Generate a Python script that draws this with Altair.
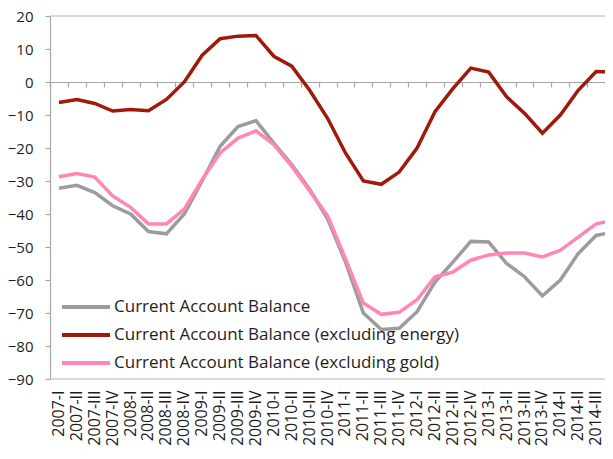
import altair as alt
import pandas as pd

quarters = [
    "2007-I", "2007-II", "2007-III", "2007-IV",
    "2008-I", "2008-II", "2008-III", "2008-IV",
    "2009-I", "2009-II", "2009-III", "2009-IV",
    "2010-I", "2010-II", "2010-III", "2010-IV",
    "2011-I", "2011-II", "2011-III", "2011-IV",
    "2012-I", "2012-II", "2012-III", "2012-IV",
    "2013-I", "2013-II", "2013-III", "2013-IV",
    "2014-I", "2014-II", "2014-III", "2014-IV",
]

series_names = [
    "Current Account Balance",
    "Current Account Balance (excluding energy)",
    "Current Account Balance (excluding gold)",
]

cab = [-32.2, -31.3, -33.5, -37.5, -40.0, -45.3, -46.0, -40.0,
       -30.0, -19.5, -13.5, -11.7, -18.5, -25.0, -32.5, -41.5,
       -54.5, -70.0, -75.0, -74.6, -69.6, -60.6, -54.6, -48.3,
       -48.5, -55.0, -59.0, -64.8, -60.0, -52.0, -46.5, -45.5]

cab_excl_energy = [-6.2, -5.3, -6.5, -8.8, -8.3, -8.7, -5.3, 0.0,
                   8.1, 13.1, 13.9, 14.1, 7.8, 4.8, -2.5, -11.0,
                   -21.5, -30.0, -31.0, -27.3, -20.0, -9.0, -2.0, 4.2,
                   3.0, -4.5, -9.5, -15.5, -10.0, -2.5, 3.2, 3.0]

cab_excl_gold = [-28.7, -27.7, -28.8, -34.5, -38.0, -43.0, -43.0, -38.5,
                 -29.5, -21.5, -17.0, -14.8, -19.0, -25.5, -33.0, -40.5,
                 -53.5, -67.0, -70.4, -69.8, -66.0, -59.0, -57.6, -54.0,
                 -52.4, -51.8, -51.8, -53.0, -51.0, -47.0, -43.0, -41.8]

colors = ["#9c9c9c", "#a01a0c", "#ff86b6"]
y_ticks = list(range(-90, 21, 10))
frame_values = [20, -90]

rows = []
for name, vals in zip(series_names, [cab, cab_excl_energy, cab_excl_gold]):
    for q, v in zip(quarters, vals):
        rows.append({"quarter": q, "series": name, "value": v})
df = pd.DataFrame(rows)

W, H = 555, 363
BAND_RANGE = 573
Y_MIN, Y_MAX = -90, 20
zero_offset = H * (Y_MAX / (Y_MAX - Y_MIN)) - H

FONT = "Open Sans"
AXIS_GRAY = "#a6a6a6"
TEXT = "#1e1e1e"

x_scale = alt.Scale(type="band", domain=quarters, range=[0, BAND_RANGE],
                    paddingInner=0, paddingOuter=0)
y_scale = alt.Scale(domain=[Y_MIN, Y_MAX], nice=False, zero=False)

y_axis = alt.Axis(values=y_ticks, title=None, grid=False, domainColor=AXIS_GRAY,
                  domainWidth=1.2, tickColor=AXIS_GRAY, tickSize=5, tickWidth=1.2,
                  labelFontSize=15, labelFont=FONT, labelColor=TEXT, labelPadding=12)

frame = alt.Chart(pd.DataFrame({"value": frame_values})).mark_rule(
    color="#b4b4b4", strokeWidth=1
).encode(
    y=alt.Y("value:Q", scale=y_scale, axis=y_axis),
    x=alt.value(0),
    x2=alt.value(BAND_RANGE),
)

zero_axis = alt.Chart(pd.DataFrame({"quarter": quarters})).mark_tick(opacity=0).encode(
    x=alt.X("quarter:N", scale=x_scale,
            axis=alt.Axis(orient="bottom", offset=zero_offset, labels=False,
                          tickBand="extent", tickSize=5, tickColor=AXIS_GRAY,
                          tickWidth=1.2, domainColor=AXIS_GRAY, domainWidth=1.2,
                          title=None, grid=False)),
)

lines = alt.Chart(df).mark_line(strokeWidth=3.5).encode(
    x=alt.X("quarter:N", scale=x_scale,
            axis=alt.Axis(orient="bottom", domain=False, ticks=False, labelAngle=-90,
                          labelFontSize=16, labelFont=FONT, labelColor=TEXT,
                          labelPadding=11, title=None, grid=False, labelOverlap=False)),
    y=alt.Y("value:Q", scale=y_scale, axis=y_axis),
    color=alt.Color("series:N", scale=alt.Scale(domain=series_names, range=colors),
                    legend=alt.Legend(orient="none", legendX=10, legendY=277, title=None,
                                      symbolType="stroke", symbolSize=2304,
                                      symbolStrokeWidth=4, labelFontSize=17,
                                      labelFont=FONT, labelColor=TEXT, clipHeight=28,
                                      rowPadding=0, labelOffset=2, padding=0,
                                      labelLimit=500)),
)

chart = alt.layer(frame, zero_axis, lines).resolve_axis(x="independent").properties(
    width=W, height=H,
    autosize=alt.AutoSizeParams(type="none"),
    padding={"left": 42, "top": 8, "right": 0, "bottom": 72},
).configure_view(stroke=None)

chart.save("out.html", embed_options={"renderer": "svg", "actions": False})
